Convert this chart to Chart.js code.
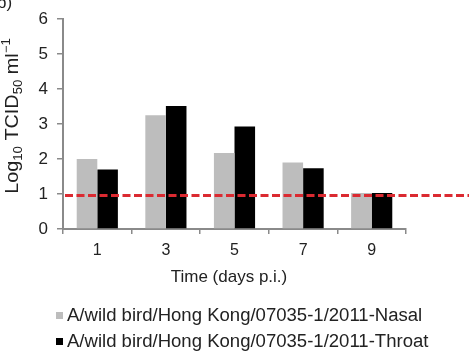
<!DOCTYPE html>
<html>
<head>
<meta charset="utf-8">
<script src="https://cdn.jsdelivr.net/npm/chart.js@4"></script>
<style>
  html, body { margin: 0; padding: 0; background: #fff; }
  #wrap { width: 469px; height: 352px; }
</style>
</head>
<body>
<div id="wrap"><canvas id="graph" width="469" height="352"></canvas></div>
<script>
var ctx = document.getElementById('graph');

// data
var days = ['1', '3', '5', '7', '9'];
var nasal = [2.0, 3.25, 2.17, 1.9, 1.03];
var throat = [1.7, 3.52, 2.93, 1.74, 1.03];
var limitOfDetection = [0.96];
var seriesNames = [
  'A/wild bird/Hong Kong/07035-1/2011-Nasal',
  'A/wild bird/Hong Kong/07035-1/2011-Throat'
];
var yTicks = [0, 1, 2, 3, 4, 5, 6];

var font = 'Liberation Sans, Arial, Helvetica, sans-serif';
var axisGrey = '#8a8a8a';
var textCol = '#222';

// dashed red line across the plot, running to the page edge
var limitLine = {
  id: 'limitLine',
  afterDatasetsDraw: function (chart) {
    var c = chart.ctx;
    var y = chart.scales.y.getPixelForValue(limitOfDetection[0]);
    c.save();
    c.strokeStyle = '#db2a31';
    c.lineWidth = 3;
    c.setLineDash([8, 3.5]);
    c.beginPath();
    c.moveTo(chart.chartArea.left + 2, y);
    c.lineTo(chart.width, y);
    c.stroke();
    c.restore();
  }
};

// titles with sub/superscripts, panel letter, legend
var extras = {
  id: 'extras',
  afterDraw: function (chart) {
    var c = chart.ctx;
    c.save();
    c.fillStyle = textCol;
    c.textBaseline = 'alphabetic';

    // panel letter (clipped at the top like the source)
    c.font = '17px ' + font;
    c.fillText('b)', -3, 8);

    // x title, sits a little left of the axis centre in the source
    c.font = '17px ' + font;
    c.textAlign = 'center';
    c.textBaseline = 'middle';
    c.fillText('Time (days p.i.)', 229, 277);
    c.textAlign = 'left';
    c.textBaseline = 'alphabetic';

    // rotated y title
    var parts = [
      ['Log', 18, 0], ['10', 12, 4], [' TCID', 18, 0], ['50', 12, 4],
      [' ml', 18, 0], ['\u22121', 12, -8]
    ];
    var total = 0;
    parts.forEach(function (p) {
      c.font = p[1] + 'px ' + font;
      total += c.measureText(p[0]).width;
    });
    var stretch = 1.1;
    c.translate(17.5, 116);
    c.rotate(-Math.PI / 2);
    c.scale(stretch, 1);
    var x = -total / 2;
    parts.forEach(function (p) {
      c.font = p[1] + 'px ' + font;
      c.fillText(p[0], x, p[2]);
      x += c.measureText(p[0]).width;
    });
    c.setTransform(1, 0, 0, 1, 0, 0);

    // legend
    var colors = ['#bdbdbd', '#000000'];
    var rows = [316, 342];
    c.font = '18px ' + font;
    c.textBaseline = 'middle';
    seriesNames.forEach(function (name, i) {
      c.fillStyle = colors[i];
      c.fillRect(56, rows[i] - 4, 7, 7);
      c.save();
      c.translate(67, rows[i]);
      c.scale(1.03, 1);
      c.fillStyle = textCol;
      c.fillText(name, 0, 0);
      c.restore();
    });
    c.restore();
  }
};

var config = {
  type: 'bar',
  data: {
    labels: days,
    datasets: [{
      label: seriesNames[0],
      data: nasal,
      backgroundColor: '#bdbdbd'
    }, {
      label: seriesNames[1],
      data: throat,
      backgroundColor: '#000000'
    }]
  },
  options: {
    responsive: false,
    animation: false,
    layout: { padding: { top: 14, right: 63, bottom: 62, left: 0 } },
    categoryPercentage: 0.6,
    barPercentage: 1.0,
    plugins: {
      legend: { display: false },
      tooltip: { enabled: false }
    },
    scales: {
      x: {
        grid: { drawOnChartArea: false, offset: true, tickLength: 5, color: axisGrey, lineWidth: 1.5 },
        border: { color: axisGrey, width: 2 },
        ticks: { color: textCol, padding: 7, font: { size: 16, family: font } },
        title: { display: false },
        afterFit: function (s) { s.height = 61; }
      },
      y: {
        min: 0,
        max: 6,
        afterBuildTicks: function (s) {
          s.ticks = yTicks.map(function (v) { return { value: v }; });
        },
        grid: { drawOnChartArea: false, tickLength: 6, color: axisGrey, lineWidth: 1.5 },
        border: { color: axisGrey, width: 2 },
        ticks: { color: textCol, padding: 9, font: { size: 17, family: font } },
        afterFit: function (s) { s.width = 63; }
      }
    }
  },
  plugins: [limitLine, extras]
};

var myBarChart = new Chart(ctx, config);
</script>
</body>
</html>
